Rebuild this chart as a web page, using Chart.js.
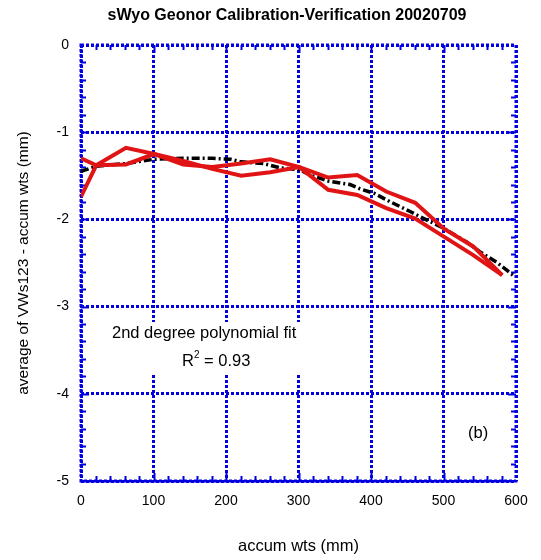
<!DOCTYPE html>
<html>
<head>
<meta charset="utf-8">
<script src="https://cdn.jsdelivr.net/npm/chart.js@4/dist/chart.umd.min.js"></script>
<style>
  html, body { margin: 0; padding: 0; background: #fff; }
</style>
</head>
<body>
<canvas id="c" width="541" height="560"></canvas>
<script>
// accumulated weights (mm) at each calibration step
const stepWts = [0, 21, 62, 101, 141, 181, 221, 261, 301, 341, 381, 421, 461, 501, 541, 581];
// average of VWs123 minus accumulated weights (mm), two passes
const passA = [-1.30, -1.38, -1.18, -1.25, -1.33, -1.42, -1.50, -1.46, -1.40, -1.52, -1.49, -1.68, -1.81, -2.11, -2.31, -2.64];
const passB = [-1.74, -1.38, -1.37, -1.25, -1.37, -1.40, -1.36, -1.31, -1.40, -1.66, -1.72, -1.87, -1.99, -2.20, -2.41, -2.64];

// smoothed curve
const fitWts = [0, 21, 62, 101, 141, 181, 206, 221, 252, 275, 301, 316, 341, 371, 385, 404, 427, 454, 468, 500, 532, 550, 573, 596];
const fitVal = [-1.45, -1.39, -1.36, -1.31, -1.30, -1.30, -1.31, -1.34, -1.36, -1.41, -1.43, -1.49, -1.56, -1.60, -1.65, -1.70, -1.80, -1.91, -1.97, -2.10, -2.26, -2.37, -2.49, -2.64];

const xTicks = [0, 100, 200, 300, 400, 500, 600];
const yTicks = [0, -1, -2, -3, -4, -5];

const BLUE = '#0000e0';
const RED = '#e01414';
const FONT = "'Liberation Sans', Arial, Helvetica, sans-serif";

const pts = (xs, ys) => xs.map((x, i) => ({ x: x, y: ys[i] }));

Chart.defaults.font.family = FONT;
Chart.defaults.color = '#000';

// frame, minor ticks, text boxes and header
const decor = {
  id: 'decor',
  beforeDatasetsDraw(chart) {
    const { ctx, chartArea: a, scales: { x, y } } = chart;
    ctx.save();
    // minor ticks, inward on all four sides
    ctx.strokeStyle = BLUE;
    ctx.lineWidth = 2;
    ctx.setLineDash([]);
    for (let v = 20; v < 600; v += 20) {
      const px = Math.round(x.getPixelForValue(v)) + 0.5;
      const len = v % 100 === 0 ? 8 : 5;
      ctx.beginPath();
      ctx.moveTo(px, a.bottom); ctx.lineTo(px, a.bottom - len);
      ctx.moveTo(px, a.top); ctx.lineTo(px, a.top + len);
      ctx.stroke();
    }
    for (let k = 1; k < 25; k++) {
      const v = -k * 0.2;
      const py = Math.round(y.getPixelForValue(v)) + 0.5;
      const len = k % 5 === 0 ? 8 : 5;
      ctx.beginPath();
      ctx.moveTo(a.left, py); ctx.lineTo(a.left + len, py);
      ctx.moveTo(a.right, py); ctx.lineTo(a.right - len, py);
      ctx.stroke();
    }
    // dotted frame
    ctx.lineWidth = 3;
    ctx.setLineDash([3, 2]);
    ctx.strokeRect(a.left, a.top, a.right - a.left, a.bottom - a.top);
    ctx.setLineDash([]);

    // fit note with white background
    ctx.fillStyle = '#fff';
    ctx.fillRect(106, 322, 198, 53);
    ctx.fillRect(462, 420, 36, 26);
    ctx.fillStyle = '#000';
    ctx.font = '16.5px ' + FONT;
    ctx.textBaseline = 'alphabetic';
    ctx.textAlign = 'left';
    ctx.fillText('2nd degree polynomial fit', 112, 338);
    ctx.fillText('R', 182, 366);
    const rW = ctx.measureText('R').width;
    ctx.font = '10px ' + FONT;
    ctx.fillText('2', 182 + rW, 358);
    const sW = ctx.measureText('2').width;
    ctx.font = '16.5px ' + FONT;
    ctx.fillText(' = 0.93', 182 + rW + sW, 366);
    ctx.fillText('(b)', 468, 438);
    ctx.restore();
  },
  afterDraw(chart) {
    const { ctx } = chart;
    ctx.save();
    ctx.fillStyle = '#000';
    ctx.font = 'bold 16px ' + FONT;
    ctx.textAlign = 'center';
    ctx.textBaseline = 'middle';
    ctx.fillText('sWyo Geonor Calibration-Verification 20020709', 287, 16);
    ctx.restore();
  }
};

const gridOpts = { color: BLUE, lineWidth: 3, drawTicks: false };
const borderOpts = { display: false, dash: [3, 2] };

new Chart(document.getElementById('c'), {
  type: 'line',
  data: {
    datasets: [
      { data: pts(stepWts, passA), borderColor: RED, borderWidth: 4, pointRadius: 0, tension: 0, fill: false },
      { data: pts(stepWts, passB), borderColor: RED, borderWidth: 4, pointRadius: 0, tension: 0, fill: false },
      { data: pts(fitWts, fitVal), borderColor: '#000', borderWidth: 3.5, borderDash: [8, 3, 2, 3], pointRadius: 0, tension: 0, fill: false }
    ]
  },
  options: {
    responsive: false,
    animation: false,
    devicePixelRatio: 1,
    layout: { padding: { top: 45, right: 25, left: 0, bottom: 0 } },
    plugins: { legend: { display: false }, title: { display: false }, tooltip: { enabled: false } },
    scales: {
      x: {
        type: 'linear', min: 0, max: 600,
        afterBuildTicks(s) { s.ticks = xTicks.map(v => ({ value: v })); },
        ticks: { padding: 12, color: '#000', font: { size: 14 } },
        grid: gridOpts, border: borderOpts,
        title: { display: true, text: 'accum wts (mm)', color: '#000', font: { size: 16.5 }, padding: { top: 0, bottom: 4 } },
        afterFit(s) { s.height = 79; }
      },
      y: {
        type: 'linear', min: -5, max: 0,
        afterBuildTicks(s) { s.ticks = yTicks.map(v => ({ value: v })); },
        ticks: { padding: 12, color: '#000', font: { size: 14 } },
        grid: gridOpts, border: borderOpts,
        title: { display: true, text: 'average of VWs123 - accum wts (mm)', color: '#000', font: { size: 15.5 }, padding: { top: 14, bottom: 0 } },
        afterFit(s) { s.width = 81; }
      }
    }
  },
  plugins: [decor]
});
</script>
</body>
</html>
